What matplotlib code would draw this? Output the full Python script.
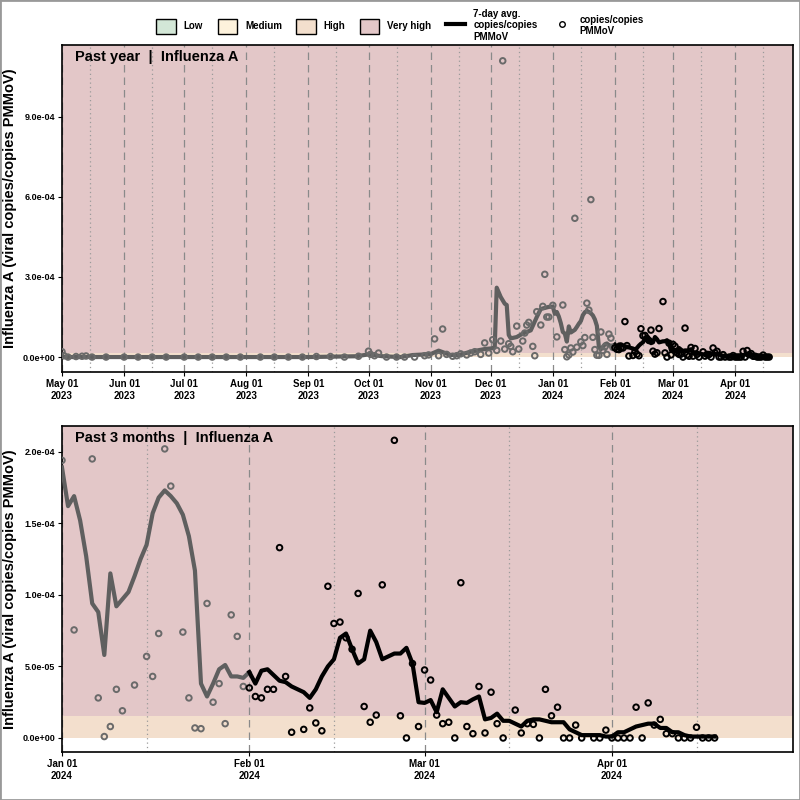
import numpy as np
import pandas as pd
import matplotlib
matplotlib.use('Agg')
import matplotlib.pyplot as plt
from matplotlib.patches import Patch
from matplotlib.lines import Line2D

plt.rcParams['font.family'] = ['Liberation Sans', 'DejaVu Sans']
plt.rcParams['font.weight'] = 'bold'

# ---- data ----
# 2024 data: day offset from 2024-01-01
line_days_2024 = list(range(0, 109))
line_vals_2024 = [1.89, 1.62, 1.69, 1.52, 1.27, 0.94, 0.88, 0.58, 1.15, 0.92,
                  0.97, 1.02, 1.13, 1.25, 1.35, 1.57, 1.68, 1.73, 1.69, 1.64,
                  1.56, 1.41, 1.17, 0.38, 0.29, 0.38, 0.48, 0.51, 0.43, 0.43,
                  0.42, 0.46, 0.38, 0.47, 0.48, 0.44, 0.40, 0.39, 0.36, 0.34,
                  0.32, 0.28, 0.34, 0.43, 0.50, 0.55, 0.70, 0.73, 0.62, 0.52,
                  0.55, 0.75, 0.67, 0.55, 0.57, 0.59, 0.59, 0.63, 0.52, 0.25,
                  0.245, 0.265, 0.18, 0.34, 0.28, 0.22, 0.25, 0.245, 0.27, 0.29,
                  0.13, 0.14, 0.17, 0.12, 0.12, 0.10, 0.08, 0.12, 0.13, 0.13,
                  0.12, 0.11, 0.11, 0.11, 0.06, 0.04, 0.02, 0.02, 0.02, 0.02,
                  0.01, 0.01, 0.04, 0.04, 0.06, 0.08, 0.09, 0.10, 0.10, 0.07,
                  0.07, 0.04, 0.04, 0.02, 0.01, 0.01, 0.01, 0.01, 0.01]
line_vals_2024 = [v * 1e-4 for v in line_vals_2024]

pt_days_2024 = [0, 2, 5, 6, 7, 8, 9, 10, 11, 12, 14, 15, 16, 17, 18, 19, 20, 21, 22, 23,
                24, 25, 26, 27, 28, 29, 30, 31, 32, 33, 34, 35, 36, 37, 38, 40,
                41, 42, 43, 44, 45, 46, 47, 48, 49, 50, 51, 52, 53, 55, 56, 57,
                58, 59, 60, 61, 62, 63, 64, 65, 66, 67, 68, 69, 70, 71, 72, 73,
                75, 76, 77, 78, 79, 80, 81, 82, 83, 84, 85, 86, 88, 89, 90, 91,
                92, 93, 94, 95, 96, 97, 98, 99, 100, 101, 102, 103, 104, 105,
                106, 107, 108]
pt_vals_2024 = [1.94, 0.755, 1.95, 0.28, 0.01, 0.08, 0.34, 0.19, 5.2, 0.37, 0.57, 0.43,
                0.73, 2.02, 1.76, 5.9, 0.74, 0.28, 0.07, 0.065, 0.94, 0.25, 0.38,
                0.10, 0.86, 0.71, 0.36, 0.35, 0.29, 0.28, 0.34, 0.34, 1.33, 0.43,
                0.04, 0.06, 0.21, 0.105, 0.05, 1.06, 0.80, 0.81, 0.70, 0.62, 1.01,
                0.22, 0.11, 0.16, 1.07, 2.08, 0.155, 0.0, 0.52, 0.08, 0.475,
                0.405, 0.16, 0.10, 0.11, 0.0, 1.085, 0.08, 0.03, 0.36, 0.035,
                0.32, 0.10, 0.0, 0.195, 0.035, 0.10, 0.095, 0.0, 0.34, 0.155,
                0.215, 0.0, 0.0, 0.09, 0.0, 0.0, 0.0, 0.055, 0.0, 0.0, 0.0, 0.0,
                0.215, 0.0, 0.245, 0.09, 0.13, 0.03, 0.03, 0.0, 0.0, 0.0, 0.075,
                0.0, 0.0, 0.0]
pt_vals_2024 = [v * 1e-4 for v in pt_vals_2024]

# 2023 data (dates, values x1e-4)
line_dates_2023 = ['2023-05-01', '2023-06-01', '2023-07-01', '2023-08-01', '2023-09-01',
                   '2023-09-25', '2023-10-01', '2023-10-08', '2023-10-17', '2023-10-23',
                   '2023-11-01', '2023-11-05', '2023-11-11', '2023-11-15', '2023-11-21',
                   '2023-11-28', '2023-12-02', '2023-12-03', '2023-12-04', '2023-12-06',
                   '2023-12-08', '2023-12-09', '2023-12-10', '2023-12-11', '2023-12-14',
                   '2023-12-17', '2023-12-21', '2023-12-24', '2023-12-26', '2023-12-30']
line_vals_2023 = [0.0, 0.0, 0.0, 0.0, 0.0, 0.03, 0.1, 0.03, 0.0, 0.075,
                  0.11, 0.24, 0.075, 0.075, 0.2, 0.3, 0.33, 0.35, 2.6, 2.25,
                  2.0, 1.95, 0.83, 0.7, 0.75, 0.88, 1.0, 1.5, 1.8, 1.88]
line_vals_2023 = [v * 1e-4 for v in line_vals_2023]

pt_dates_2023 = ['2023-05-01', '2023-05-02', '2023-05-04', '2023-05-08',
                 '2023-05-11', '2023-05-13', '2023-05-16', '2023-05-23',
                 '2023-06-01', '2023-06-08', '2023-06-15', '2023-06-22',
                 '2023-07-01', '2023-07-08', '2023-07-15', '2023-07-22', '2023-07-29',
                 '2023-08-08', '2023-08-15', '2023-08-22', '2023-08-29',
                 '2023-09-05', '2023-09-12', '2023-09-19', '2023-09-26', '2023-10-01',
                 '2023-10-02', '2023-10-04', '2023-10-06', '2023-10-10', '2023-10-15',
                 '2023-10-19', '2023-10-24', '2023-10-29', '2023-10-31', '2023-11-03',
                 '2023-11-05', '2023-11-07', '2023-11-09', '2023-11-12', '2023-11-14',
                 '2023-11-16', '2023-11-19', '2023-11-21', '2023-11-23', '2023-11-26',
                 '2023-11-28', '2023-11-30', '2023-12-02', '2023-12-04', '2023-12-06',
                 '2023-12-07', '2023-12-08', '2023-12-10', '2023-12-11', '2023-12-12',
                 '2023-12-14', '2023-12-15', '2023-12-17', '2023-12-18', '2023-12-19',
                 '2023-12-20', '2023-12-22', '2023-12-23', '2023-12-24', '2023-12-26',
                 '2023-12-27', '2023-12-28', '2023-12-29', '2023-12-30']
pt_vals_2023 = [0.2, 0.05, 0.0, 0.02, 0.03, 0.04, 0.0, 0.0,
                0.0, 0.0, 0.0, 0.0,
                0.0, 0.0, 0.0, 0.0, 0.0,
                0.0, 0.0, 0.0, 0.0,
                0.02, 0.02, 0.0, 0.03, 0.22,
                0.1, 0.05, 0.15, 0.0, 0.0,
                0.0, 0.0, 0.05, 0.08, 0.68,
                0.05, 1.05, 0.1, 0.03, 0.05,
                0.12, 0.08, 0.15, 0.2, 0.1,
                0.53, 0.15, 0.65, 0.25, 0.6,
                11.1, 0.3, 0.5, 0.4, 0.2,
                1.16, 0.3, 0.6, 0.9, 1.2,
                1.3, 0.4, 0.05, 1.7, 1.2,
                1.9, 3.1, 1.5, 1.5]
pt_vals_2023 = [v * 1e-4 for v in pt_vals_2023]

high_top = 1.54e-5

# ---- assemble ----
jan1 = pd.Timestamp('2024-01-01')
feb1 = pd.Timestamp('2024-02-01')
line_dates = list(pd.to_datetime(line_dates_2023)) + [jan1 + pd.Timedelta(days=d) for d in line_days_2024]
line_vals = line_vals_2023 + line_vals_2024
pt_dates = list(pd.to_datetime(pt_dates_2023)) + [jan1 + pd.Timedelta(days=d) for d in pt_days_2024]
pt_vals = pt_vals_2023 + pt_vals_2024
line_df = pd.DataFrame({'date': line_dates, 'v': line_vals})
pt_df = pd.DataFrame({'date': pt_dates, 'v': pt_vals})

c_vhigh = '#e3c7c8'
c_high = '#f3dfcd'
c_med = '#fdf2dc'
c_low = '#d3e7d7'
c_gray = '#5f5f5f'


def draw(ax, start, end, ylim, yticks, title, tick_months):
    ax.axhspan(0, high_top, color=c_high, zorder=0, lw=0)
    ax.axhspan(high_top, ylim[1] * 2, color=c_vhigh, zorder=0, lw=0)
    for m in pd.date_range(start, end, freq='MS'):
        ax.axvline(m, color='#8a8a8a', ls=(0, (6, 4)), lw=0.9, zorder=1)
        ax.axvline(m + pd.Timedelta(days=14), color='#9a9a9a', ls=(0, (1, 2.5)), lw=0.9, zorder=1)
    ld = line_df[(line_df.date >= start) & (line_df.date <= end)]
    old = ld[ld.date <= feb1]
    new = ld[ld.date >= feb1]
    ax.plot(old.date, old.v, color=c_gray, lw=3, zorder=3)
    ax.plot(new.date, new.v, color='black', lw=3, zorder=3)
    pd_ = pt_df[(pt_df.date >= start) & (pt_df.date <= end)]
    po = pd_[pd_.date < feb1]
    pn = pd_[pd_.date >= feb1]
    ax.scatter(po.date, po.v, s=16, facecolors='none', edgecolors='#6a6a6a', lw=1.4, zorder=4)
    ax.scatter(pn.date, pn.v, s=16, facecolors='none', edgecolors='black', lw=1.4, zorder=4)
    ax.set_xlim(start, end)
    ax.set_ylim(*ylim)
    ax.set_yticks(yticks)
    ax.set_yticklabels(['%.1e' % t for t in yticks], fontsize=6.5, fontweight='bold')
    ax.set_xticks(tick_months)
    ax.set_xticklabels([d.strftime('%b %d\n%Y') for d in tick_months], fontsize=7, fontweight='bold')
    ax.tick_params(length=3, pad=2)
    ax.set_ylabel('Influenza A (viral copies/copies PMMoV)', fontsize=10.5, fontweight='bold', labelpad=4)
    ax.text(0.018, 0.985, title, transform=ax.transAxes, ha='left', va='top',
            fontsize=10.5, fontweight='bold', zorder=6)
    for s in ax.spines.values():
        s.set_linewidth(1.2)


fig = plt.figure(figsize=(8, 8), dpi=100)
ax1 = fig.add_axes([0.0775, 0.535, 0.914, 0.409])
ax2 = fig.add_axes([0.0775, 0.06, 0.914, 0.4075])

draw(ax1, pd.Timestamp('2023-05-01'), pd.Timestamp('2024-04-30'), (-5.6e-5, 1.17e-3),
     [0, 3e-4, 6e-4, 9e-4], 'Past year  |  Influenza A',
     list(pd.date_range('2023-05-01', '2024-04-01', freq='MS')))
draw(ax2, pd.Timestamp('2024-01-01'), pd.Timestamp('2024-05-01'), (-9.8e-6, 2.18e-4),
     [0, 5e-5, 1e-4, 1.5e-4, 2e-4], 'Past 3 months  |  Influenza A',
     list(pd.date_range('2024-01-01', '2024-04-01', freq='MS')))

handles = [Patch(facecolor=c_low, edgecolor='black', label='Low'),
           Patch(facecolor=c_med, edgecolor='black', label='Medium'),
           Patch(facecolor=c_high, edgecolor='black', label='High'),
           Patch(facecolor=c_vhigh, edgecolor='black', label='Very high'),
           Line2D([], [], color='black', lw=3, label='7-day avg.\ncopies/copies\nPMMoV'),
           Line2D([], [], color='black', marker='o', ls='none', markerfacecolor='none',
                  markersize=4, label='copies/copies\nPMMoV')]
fig.legend(handles=handles, loc='upper center', bbox_to_anchor=(0.5, 1.0), ncol=6,
           frameon=False, prop={'size': 7, 'weight': 'bold'}, handlelength=2,
           handleheight=2, columnspacing=1.5, handletextpad=0.8)
fig.patches.append(plt.Rectangle((0, 0), 1, 1, transform=fig.transFigure, fill=False,
                                 edgecolor='#999999', lw=2))

fig.savefig('out.png', dpi=100)
